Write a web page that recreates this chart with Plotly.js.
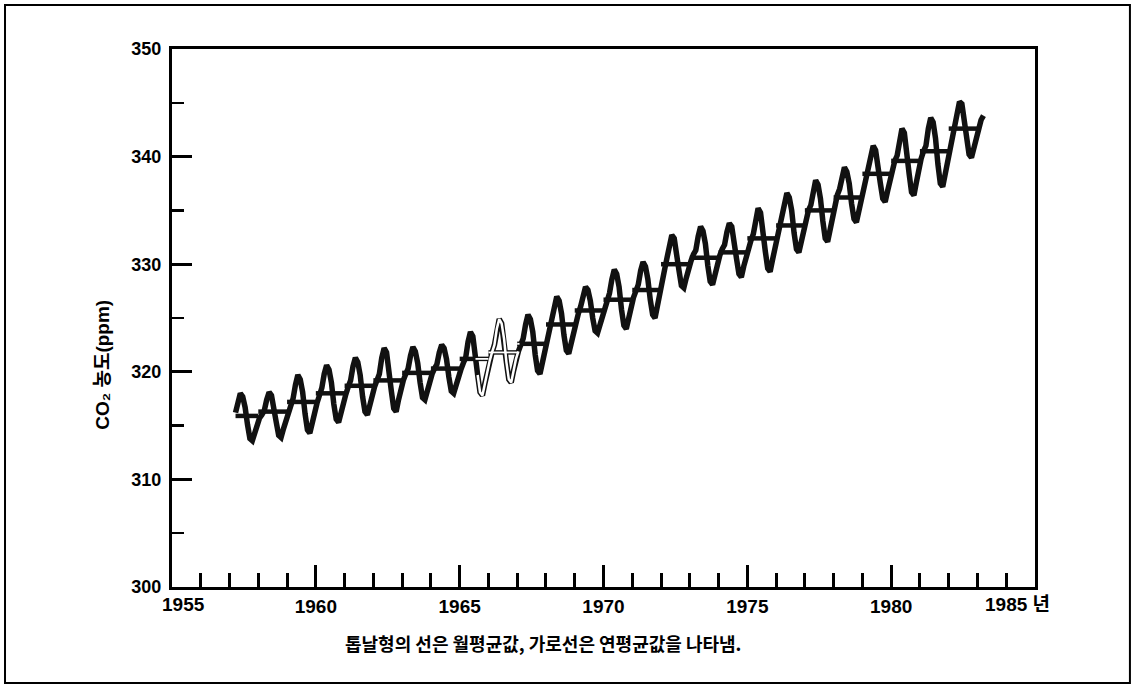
<!DOCTYPE html>
<html>
<head>
<meta charset="utf-8">
<script src="https://cdn.plot.ly/plotly-3.0.1.min.js"></script>
<style>
  html, body { margin: 0; padding: 0; background: #fff; }
  #chart { width: 1137px; height: 688px; }
</style>
</head>
<body>
<div id="chart"></div>
<script>
// ---- data ----
const firstYear = 1957;
const firstMonth = 3; // series begins in March of the first year
// monthly mean CO2 (ppm), consecutive months
const monthlyCO2 = [
  316.2, 317.3, 318.0, 317.7, 316.7, 315.1, 313.8, 313.6, 314.4, 315.3,
  315.7, 316.0, 316.4, 317.4, 318.1, 317.8, 316.8, 315.3, 314.1, 313.9, 314.7, 315.5,
  316.2, 316.9, 317.5, 318.8, 319.7, 319.3, 318.1, 316.1, 314.6, 314.3, 315.3, 316.4,
  317.1, 317.8, 318.5, 319.8, 320.6, 320.2, 319.0, 317.0, 315.6, 315.3, 316.3, 317.3,
  317.9, 318.6, 319.2, 320.5, 321.3, 320.9, 319.7, 317.7, 316.3, 316.0, 317.0, 318.0,
  318.6, 319.2, 319.8, 321.3, 322.2, 321.8, 320.4, 318.2, 316.6, 316.3, 317.4, 318.5,
  319.2, 319.8, 320.3, 321.5, 322.3, 321.9, 320.8, 319.0, 317.6, 317.4, 318.3, 319.3,
  319.8, 320.3, 320.7, 321.8, 322.5, 322.2, 321.2, 319.5, 318.2, 318.0, 318.9, 319.7,
  320.2, 320.8, 321.3, 322.8, 323.7, 323.3, 321.9, 319.7, 318.1, 317.8, 318.9, 320.0,
  321.0, 321.8, 322.5, 324.0, 324.9, 324.5, 323.1, 320.9, 319.3, 319.0, 320.1, 321.2,
  321.9, 322.5, 323.1, 324.4, 325.3, 324.9, 323.7, 321.6, 320.1, 319.8, 320.8, 321.9,
  323.0, 323.9, 324.8, 326.2, 327.0, 326.6, 325.4, 323.4, 322.0, 321.7, 322.7, 323.7,
  324.6, 325.4, 326.1, 327.2, 327.9, 327.6, 326.6, 325.0, 323.8, 323.6, 324.4, 325.2,
  325.9, 326.6, 327.3, 328.6, 329.5, 329.1, 327.9, 325.8, 324.3, 324.0, 325.0, 326.1,
  326.9, 327.5, 328.1, 329.4, 330.2, 329.8, 328.6, 326.7, 325.3, 325.0, 326.0, 327.0,
  328.3, 329.5, 330.6, 331.9, 332.7, 332.4, 331.2, 329.4, 328.0, 327.8, 328.7, 329.7,
  330.3, 330.9, 331.3, 332.6, 333.5, 333.1, 331.9, 329.9, 328.4, 328.1, 329.1, 330.2,
  330.8, 331.4, 331.8, 333.0, 333.8, 333.5, 332.3, 330.5, 329.1, 328.8, 329.8, 330.7,
  331.5, 332.2, 332.8, 334.3, 335.2, 334.8, 333.4, 331.2, 329.6, 329.3, 330.4, 331.5,
  332.6, 333.6, 334.4, 335.7, 336.6, 336.2, 335.0, 332.9, 331.4, 331.1, 332.1, 333.2,
  334.2, 335.0, 335.5, 336.9, 337.8, 337.4, 336.1, 334.0, 332.4, 332.1, 333.2, 334.3,
  335.5, 336.4, 337.0, 338.2, 339.0, 338.6, 337.5, 335.6, 334.2, 333.9, 334.9, 335.8,
  337.2, 338.3, 338.9, 340.2, 341.0, 340.6, 339.4, 337.5, 336.1, 335.8, 336.8, 337.8,
  338.8, 339.6, 340.1, 341.6, 342.6, 342.2, 340.7, 338.4, 336.7, 336.4, 337.6, 338.8,
  339.8, 340.5, 341.0, 342.6, 343.6, 343.2, 341.7, 339.3, 337.5, 337.2, 338.4, 339.6,
  340.9, 341.9, 343.0, 344.3, 345.1, 344.9, 343.5, 341.6, 340.2, 339.9, 340.9, 341.9,
  342.8, 343.4, 343.8
];
// annual means (horizontal bars)
const annualYears = [1957,1958,1959,1960,1961,1962,1963,1964,1965,1966,1967,1968,1969,
                     1970,1971,1972,1973,1974,1975,1976,1977,1978,1979,1980,1981,1982];
const annualMeans = [315.9,316.3,317.2,318.0,318.7,319.2,319.9,320.3,321.2,321.8,322.6,324.4,325.7,
                     326.7,327.6,330.0,330.6,331.1,332.4,333.6,335.0,336.2,338.4,339.6,340.5,342.6];
// stretch drawn as a hollow (outlined) line in the reference
const hollowFrom = 1965.55, hollowTo = 1967.08;
// axis labels
const xTickYears = [1960, 1965, 1970, 1975, 1980];
const xTickText = ['1960', '1965', '1970', '1975', '1980'];
const yTickVals = [300, 310, 320, 330, 340, 350];
const yTitle = 'CO₂ 농도(ppm)';
const caption = '톱날형의 선은 월평균값, 가로선은 연평균값을 나타냄.';
const firstLabel = '1955';
const lastLabel = '1985 년';

// ---- build traces ----
const mx = monthlyCO2.map((v, i) => {
  const k = (firstMonth - 1) + i;
  return firstYear + Math.floor(k / 12) + ((k % 12) + 0.5) / 12;
});
const startX = mx[0];
const endX = mx[mx.length - 1];

const ax = [], ay = [];
annualYears.forEach((y, i) => {
  ax.push(Math.max(y, startX), Math.min(y + 1, endX + 0.04), null);
  ay.push(annualMeans[i], annualMeans[i], null);
});

function clip(xs, ys, a, b) {
  const ox = [], oy = [];
  xs.forEach((x, i) => {
    if (x >= a && x <= b) { ox.push(x); oy.push(ys[i]); }
    else { ox.push(null); oy.push(null); }
  });
  return [ox, oy];
}
const hm = clip(mx, monthlyCO2, hollowFrom, hollowTo);
const hax = [], hay = [];
annualYears.forEach((y, i) => {
  const a = Math.max(y, hollowFrom), b = Math.min(y + 1, hollowTo);
  if (b > a) { hax.push(a, b, null); hay.push(annualMeans[i], annualMeans[i], null); }
});

const ink = '#111111';
const traces = [
  { x: mx, y: monthlyCO2, mode: 'lines', line: { color: ink, width: 5.5 }, hoverinfo: 'skip' },
  { x: ax, y: ay, mode: 'lines', line: { color: ink, width: 4.5 }, hoverinfo: 'skip', connectgaps: false },
  { x: hm[0], y: hm[1], mode: 'lines', line: { color: '#ffffff', width: 2.5 }, hoverinfo: 'skip', connectgaps: false },
  { x: hax, y: hay, mode: 'lines', line: { color: '#ffffff', width: 1.8 }, hoverinfo: 'skip', connectgaps: false }
];

const numFont = { family: '"Liberation Sans", Arial, sans-serif', size: 19, color: '#000', weight: 'bold' };
const korFont = { family: '"Noto Sans CJK KR", "Liberation Sans", sans-serif', size: 18, color: '#000', weight: 'bold' };

const layout = {
  width: 1137, height: 688,
  margin: { l: 172, r: 102, t: 49, b: 101, pad: 0 },
  paper_bgcolor: '#ffffff', plot_bgcolor: '#ffffff',
  showlegend: false,
  xaxis: {
    range: [1955, 1985],
    tickmode: 'array', tickvals: xTickYears, ticktext: xTickText,
    ticks: 'inside', ticklen: 22, tickwidth: 3, tickcolor: '#000',
    showline: true, linewidth: 3, linecolor: '#000', mirror: true,
    showgrid: false, zeroline: false,
    minor: { tickmode: 'linear', tick0: 1955, dtick: 1, ticks: 'inside', ticklen: 14, tickwidth: 3, tickcolor: '#000', showgrid: false },
    tickfont: numFont
  },
  yaxis: {
    range: [300, 350],
    tickmode: 'array', tickvals: yTickVals,
    ticks: 'inside', ticklen: 20, tickwidth: 3, tickcolor: '#000',
    showline: true, linewidth: 3, linecolor: '#000', mirror: true,
    showgrid: false, zeroline: false,
    minor: { tickmode: 'linear', tick0: 300, dtick: 5, ticks: 'inside', ticklen: 12, tickwidth: 2.5, tickcolor: '#000', showgrid: false },
    tickfont: Object.assign({}, numFont, { size: 18 }),
    ticklabelstandoff: 4
  },
  annotations: [
    { text: firstLabel, xref: 'paper', yref: 'paper', x: 0.0139, y: 0, yshift: -5, xanchor: 'center', yanchor: 'top', showarrow: false, font: numFont },
    { text: lastLabel, xref: 'paper', yref: 'paper', x: 0.940, y: 0, yshift: -5, xanchor: 'left', yanchor: 'top', showarrow: false, font: Object.assign({}, numFont, { family: '"Liberation Sans", "Noto Sans CJK KR", sans-serif' }) },
    { text: yTitle, xref: 'paper', yref: 'paper', x: -0.080, y: 0.413, xanchor: 'center', yanchor: 'middle', textangle: -90, showarrow: false, font: { family: '"Liberation Sans", "Noto Sans CJK KR", sans-serif', size: 19, color: '#000', weight: 'bold' } },
    { text: caption, xref: 'paper', yref: 'paper', x: 0.43, y: -0.104, xanchor: 'center', yanchor: 'middle', showarrow: false, font: korFont }
  ],
  shapes: [
    { type: 'rect', xref: 'paper', yref: 'paper', x0: -0.1935, x1: 1.110, y0: -0.1784, y1: 1.0818, line: { color: '#000', width: 2 } }
  ]
};

Plotly.newPlot('chart', traces, layout, { staticPlot: true, displayModeBar: false });
</script>
</body>
</html>
